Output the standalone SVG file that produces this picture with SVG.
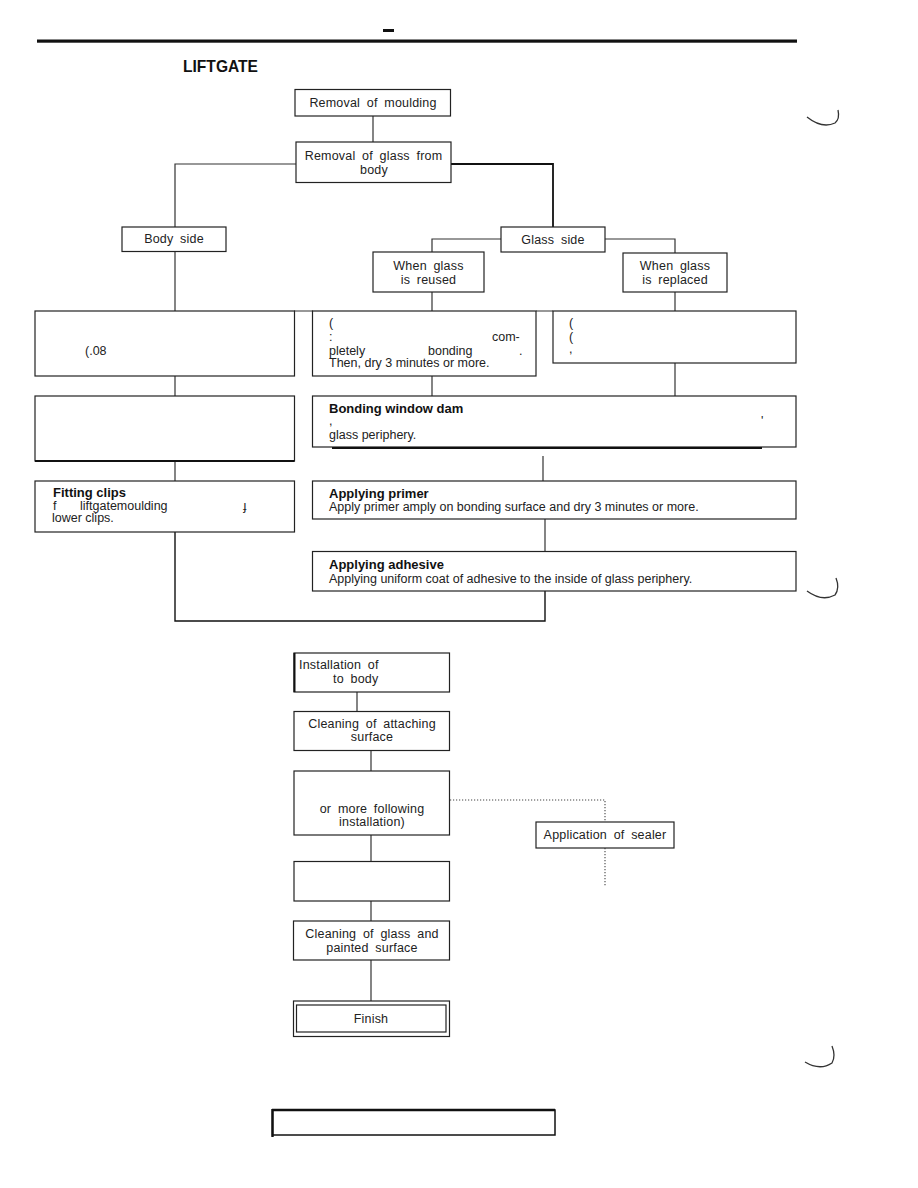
<svg xmlns="http://www.w3.org/2000/svg" width="918" height="1188" viewBox="0 0 918 1188">
<style>
.box{fill:#fff;stroke:#222;stroke-width:1.2}
.con{fill:none;stroke:#333;stroke-width:1.2}
.dot{fill:none;stroke:#444;stroke-width:1.1;stroke-dasharray:1.2 1.8}
.lbl{font-family:"Liberation Sans",Arial,sans-serif;font-size:12.5px;letter-spacing:0.2px;word-spacing:3px;fill:#222}
.mid{text-anchor:middle}
.ttl{font-family:"Liberation Sans",Arial,sans-serif;font-size:13px;font-weight:bold;fill:#111}
.dsc{font-family:"Liberation Sans",Arial,sans-serif;font-size:12.5px;fill:#222}
.mark{fill:none;stroke:#333;stroke-width:1.3}
</style>
<rect x="0" y="0" width="918" height="1188" fill="#fff"/>
<g id="header">
<rect x="383" y="29" width="11" height="3" fill="#111"/>
<rect x="37" y="39.5" width="760" height="3.2" fill="#111"/>
<text x="183" y="72" font-family="Liberation Sans,Arial,sans-serif" font-size="17" font-weight="bold" fill="#111" textLength="75" lengthAdjust="spacingAndGlyphs">LIFTGATE</text>
</g>
<g id="connectors">
<path class="con" d="M373,116 V142"/>
<path class="con" d="M296,164 H175 V227"/>
<path class="con" d="M451,164 H553 V227" style="stroke-width:1.8;stroke:#111"/>
<path class="con" d="M175,251 V311"/>
<path class="con" d="M501,239 H432 V252"/>
<path class="con" d="M605,239 H675 V253"/>
<path class="con" d="M432,292 V311"/>
<path class="con" d="M675,292 V311"/>
<path class="con" d="M294,311 H313 M536,311 H553"/>
<path class="con" d="M175,376 V396"/>
<path class="con" d="M432,376 V396"/>
<path class="con" d="M675,363 V396"/>
<path class="con" d="M175,461 V481"/>
<path class="con" d="M543,456 V481"/>
<path class="con" d="M545,519 V551"/>
<path class="con" d="M175,532 V621 H545 V591" style="stroke:#111;stroke-width:1.4"/>
<path class="con" d="M357,692 V711"/>
<path class="con" d="M371,750 V771"/>
<path class="dot" d="M450,800 H605 V822"/>
<path class="dot" d="M605,848 V887"/>
<path class="con" d="M371,835 V861"/>
<path class="con" d="M371,901 V921"/>
<path class="con" d="M371,960 V1001"/>
</g>
<g id="n-removal-moulding">
<rect class="box" x="295" y="89.5" width="155.5" height="26.5"/>
<text class="lbl mid" x="373" y="107">Removal of moulding</text>
</g>
<g id="n-removal-glass">
<rect class="box" x="296" y="142" width="155" height="40.5"/>
<text class="lbl mid" x="373.5" y="160">Removal of glass from</text>
<text class="lbl mid" x="374" y="174">body</text>
</g>
<g id="n-body-side">
<rect class="box" x="122" y="227" width="104" height="24.5"/>
<text class="lbl mid" x="174" y="243">Body side</text>
</g>
<g id="n-glass-side">
<rect class="box" x="501" y="227" width="104" height="25"/>
<text class="lbl mid" x="553" y="244">Glass side</text>
</g>
<g id="n-glass-reused">
<rect class="box" x="373" y="252" width="111" height="40"/>
<text class="lbl mid" x="428.5" y="270">When glass</text>
<text class="lbl mid" x="428.5" y="284">is reused</text>
</g>
<g id="n-glass-replaced">
<rect class="box" x="623" y="253" width="104" height="39"/>
<text class="lbl mid" x="675" y="270">When glass</text>
<text class="lbl mid" x="675" y="284">is replaced</text>
</g>
<g id="n-body-step1">
<rect class="box" x="35" y="311" width="259.5" height="65"/>
<text class="dsc" x="85" y="355">(.08</text>
</g>
<g id="n-reused-step1">
<rect class="box" x="312.5" y="311" width="223.5" height="65"/>
<text class="dsc" x="329" y="327">(</text>
<text class="dsc" x="329" y="341">:</text>
<text class="dsc" x="492" y="341">com-</text>
<text class="dsc" x="329" y="355">pletely</text>
<text class="dsc" x="428" y="355">bonding</text>
<text class="dsc" x="519" y="355">.</text>
<text class="dsc" x="329" y="367">Then, dry 3 minutes or more.</text>
</g>
<g id="n-replaced-step1">
<rect class="box" x="553" y="311" width="243" height="52"/>
<text class="dsc" x="569" y="327">(</text>
<text class="dsc" x="569" y="341">(</text>
<text class="dsc" x="569" y="353">,</text>
</g>
<g id="n-body-step2">
<rect class="box" x="35" y="396" width="259.5" height="65"/>
<path d="M35,461 H294.5" stroke="#111" stroke-width="2.2"/>
</g>
<g id="n-bonding-dam">
<rect class="box" x="312.5" y="396" width="483.5" height="51"/>
<path d="M332,448 H762" stroke="#111" stroke-width="2"/>
<text class="ttl" x="329" y="413">Bonding window dam</text>
<text class="dsc" x="329" y="425">,</text>
<text class="dsc" x="761" y="425">'</text>
<text class="dsc" x="329" y="439">glass periphery.</text>
</g>
<g id="n-fitting-clips">
<rect class="box" x="35" y="481" width="259.5" height="51"/>
<text class="ttl" x="53" y="497">Fitting clips</text>
<text class="dsc" x="53" y="510">f</text>
<text class="dsc" x="80" y="510">liftgatemoulding</text>
<text class="dsc" x="243" y="510">ɟ</text>
<text class="dsc" x="52" y="522">lower clips.</text>
</g>
<g id="n-primer">
<rect class="box" x="312.5" y="481" width="483.5" height="38"/>
<text class="ttl" x="329" y="498">Applying primer</text>
<text class="dsc" x="329" y="511">Apply primer amply on bonding surface and dry 3 minutes or more.</text>
</g>
<g id="n-adhesive">
<rect class="box" x="312.5" y="551.5" width="483.5" height="39.5"/>
<text class="ttl" x="329" y="569">Applying adhesive</text>
<text class="dsc" x="329" y="583">Applying uniform coat of adhesive to the inside of glass periphery.</text>
</g>
<g id="n-installation">
<rect class="box" x="294" y="653" width="155.5" height="39"/>
<path d="M294.5,653 V692" stroke="#111" stroke-width="2"/>
<text class="lbl" x="299" y="669">Installation of</text>
<text class="lbl" x="333" y="683">to body</text>
</g>
<g id="n-cleaning-attach">
<rect class="box" x="294" y="711.5" width="155.5" height="39"/>
<text class="lbl mid" x="372" y="728">Cleaning of attaching</text>
<text class="lbl mid" x="372" y="741">surface</text>
</g>
<g id="n-drying">
<rect class="box" x="294" y="771" width="155.5" height="64"/>
<text class="lbl mid" x="372" y="813">or more following</text>
<text class="lbl mid" x="372" y="826">installation)</text>
</g>
<g id="n-sealer">
<rect class="box" x="536" y="822" width="138" height="26"/>
<text class="lbl mid" x="605" y="839">Application of sealer</text>
</g>
<g id="n-step-empty">
<rect class="box" x="294" y="861.5" width="155.5" height="39.5"/>
</g>
<g id="n-cleaning-glass">
<rect class="box" x="293.5" y="921" width="156" height="39"/>
<text class="lbl mid" x="372" y="938">Cleaning of glass and</text>
<text class="lbl mid" x="372" y="952">painted surface</text>
</g>
<g id="n-finish">
<rect class="box" x="293.5" y="1001" width="156" height="35.5"/>
<rect class="box" x="296.5" y="1005" width="149.5" height="27"/>
<text class="lbl mid" x="371" y="1023">Finish</text>
</g>
<g id="n-footer-box">
<rect class="box" x="272.5" y="1110" width="282.5" height="25" style="stroke-width:1.5;stroke:#111"/>
<path d="M272,1110 H555 M272.5,1109 V1137" stroke="#111" stroke-width="2.4"/>
</g>
<g id="binding-marks">
<path class="mark" d="M807,117 Q822,129 835,123 Q840,119 838,110"/>
<path class="mark" d="M807,591 Q822,602 835,595 Q840,588 836,578"/>
<path class="mark" d="M805,1062 Q820,1071 832,1063 Q836,1056 832,1046"/>
</g>
</svg>
